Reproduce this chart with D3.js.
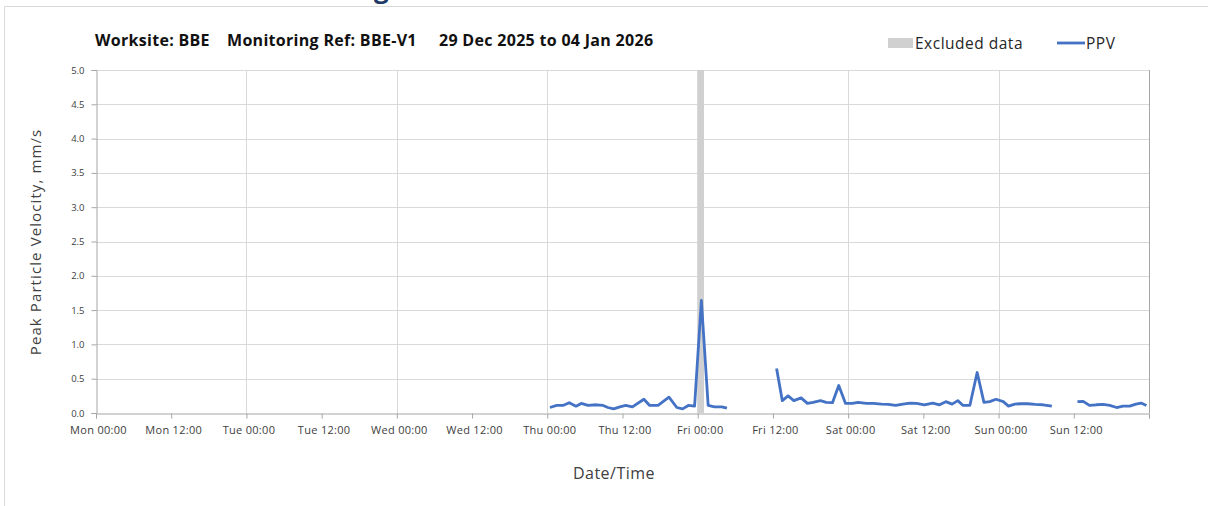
<!DOCTYPE html>
<html><head><meta charset="utf-8">
<script src="https://cdn.jsdelivr.net/npm/d3@7"></script>
<style>
body{margin:0;background:#fff;}
svg{display:block;font-family:'Open Sans',sans-serif;}
</style>
</head><body>
<svg id="chart" width="1208" height="506"></svg>
<script>
// ---------- data ----------
const titleParts = ["Worksite: BBE", "Monitoring Ref: BBE-V1", "29 Dec 2025 to 04 Jan 2026"];
const yTickValues = [0, 0.5, 1, 1.5, 2, 2.5, 3, 3.5, 4, 4.5, 5];
const xTickLabels = ["Mon 00:00","Mon 12:00","Tue 00:00","Tue 12:00","Wed 00:00","Wed 12:00",
                     "Thu 00:00","Thu 12:00","Fri 00:00","Fri 12:00","Sat 00:00","Sat 12:00",
                     "Sun 00:00","Sun 12:00",""];
const xDomain = ["2025-12-29 00:00", "2026-01-05 00:00"];
const excludedRange = ["2026-01-01 23:55", "2026-01-02 01:00"];
const legendLabels = ["Excluded data", "PPV"];

const times = [
  "2026-01-01 00:25","2026-01-01 01:30","2026-01-01 02:30","2026-01-01 03:30","2026-01-01 04:35",
  "2026-01-01 05:25","2026-01-01 06:30","2026-01-01 07:50","2026-01-01 08:55","2026-01-01 09:40",
  "2026-01-01 10:35","2026-01-01 11:35","2026-01-01 12:30","2026-01-01 13:35","2026-01-01 15:25",
  "2026-01-01 16:20","2026-01-01 17:40","2026-01-01 19:25","2026-01-01 20:40","2026-01-01 21:35",
  "2026-01-01 22:30","2026-01-01 23:30","2026-01-02 00:35","2026-01-02 01:40","2026-01-02 02:40",
  "2026-01-02 03:50","2026-01-02 04:40",
  "2026-01-02 08:00",
  "2026-01-02 12:35","2026-01-02 13:30","2026-01-02 14:25","2026-01-02 15:20","2026-01-02 16:30",
  "2026-01-02 17:30","2026-01-02 18:25","2026-01-02 19:35","2026-01-02 20:30","2026-01-02 21:30",
  "2026-01-02 22:30","2026-01-02 23:35","2026-01-03 00:40","2026-01-03 01:35","2026-01-03 02:55",
  "2026-01-03 04:00","2026-01-03 05:20","2026-01-03 06:25","2026-01-03 07:35","2026-01-03 08:45",
  "2026-01-03 09:50","2026-01-03 10:55","2026-01-03 12:10","2026-01-03 13:30","2026-01-03 14:35",
  "2026-01-03 15:35","2026-01-03 16:35","2026-01-03 17:30","2026-01-03 18:20","2026-01-03 19:25",
  "2026-01-03 20:35","2026-01-03 21:40","2026-01-03 22:35","2026-01-03 23:35","2026-01-04 00:45",
  "2026-01-04 01:35","2026-01-04 02:35","2026-01-04 03:35","2026-01-04 04:40","2026-01-04 05:50",
  "2026-01-04 07:05","2026-01-04 08:30",
  "2026-01-04 10:30",
  "2026-01-04 12:35","2026-01-04 13:30","2026-01-04 14:30","2026-01-04 15:35","2026-01-04 16:40",
  "2026-01-04 17:45","2026-01-04 18:50","2026-01-04 19:50","2026-01-04 20:55","2026-01-04 21:55",
  "2026-01-04 22:45","2026-01-04 23:35"
];
const ppv = [
  0.08,0.11,0.11,0.15,0.10,
  0.14,0.11,0.12,0.11,0.08,
  0.06,0.09,0.11,0.09,0.20,
  0.11,0.11,0.23,0.08,0.06,
  0.11,0.10,1.64,0.11,0.09,
  0.09,0.07,
  null,
  0.65,0.18,0.25,0.18,0.22,
  0.14,0.155,0.18,0.155,0.15,
  0.40,0.14,0.14,0.155,0.14,
  0.14,0.13,0.125,0.11,0.13,
  0.145,0.14,0.12,0.145,0.12,
  0.165,0.13,0.18,0.11,0.11,
  0.59,0.155,0.165,0.20,0.165,
  0.10,0.13,0.135,0.135,0.125,
  0.12,0.10,
  null,
  0.165,0.17,0.11,0.12,0.125,
  0.11,0.08,0.10,0.10,0.13,
  0.145,0.11
];

// ---------- drawing ----------
const parse = d3.timeParse("%Y-%m-%d %H:%M");
const data = times.map((t, i) => ({t: parse(t), v: ppv[i]}));
const svg = d3.select("#chart");
const W = 1208, H = 506;
const m = {left: 96, right: 1149, top: 70, bottom: 413};

svg.append("rect").attr("width", W).attr("height", H).attr("fill", "#fff");
// outer frame
svg.append("path").attr("d", `M4.5,${H} V6.5 H${W}`).attr("fill","none").attr("stroke","#d9d9d9").attr("stroke-width",1);
// cut-off heading above frame (only its descender shows in the reference)
svg.append("text").attr("x", 374).attr("y", -2).attr("font-size", 26).attr("font-weight", 700)
  .attr("fill", "#203864").text("g");

const x = d3.scaleTime().domain(xDomain.map(parse)).range([m.left, m.right]);
const y = d3.scaleLinear().domain([0, 5]).range([m.bottom, m.top]);

// horizontal gridlines
svg.append("g").selectAll("line").data(yTickValues.filter(v => v > 0)).join("line")
  .attr("x1", m.left).attr("x2", m.right)
  .attr("y1", d => Math.round(y(d)) + 0.5).attr("y2", d => Math.round(y(d)) + 0.5)
  .attr("stroke", "#d9d9d9");
// vertical gridlines at each day
const dayTicks = d3.timeDay.range(parse(xDomain[0]), d3.timeHour.offset(parse(xDomain[1]), 1)).slice(1);
svg.append("g").selectAll("line").data(dayTicks).join("line")
  .attr("x1", d => Math.round(x(d)) + 0.5).attr("x2", d => Math.round(x(d)) + 0.5)
  .attr("y1", m.top).attr("y2", m.bottom)
  .attr("stroke", "#d9d9d9");

// excluded band
const ex = excludedRange.map(parse);
svg.append("rect").attr("x", x(ex[0])).attr("width", x(ex[1]) - x(ex[0]))
  .attr("y", m.top).attr("height", m.bottom - m.top).attr("fill", "#d0d0d0");

// y axis
const yAxis = d3.axisLeft(y).tickValues(yTickValues).tickFormat(d3.format(".1f")).tickSize(5).tickPadding(7);
const gy = svg.append("g").attr("transform", `translate(${m.left + 0.5},0)`).call(yAxis);
gy.select(".domain").attr("stroke", "#a6a6a6");
gy.selectAll(".tick line").attr("stroke", "#a6a6a6");
gy.selectAll(".tick text").attr("font-family", "'Open Sans',sans-serif").attr("font-size", 9.5).attr("fill", "#404040");

// x axis
const xTicks = d3.timeHour.every(12).range(parse(xDomain[0]), d3.timeHour.offset(parse(xDomain[1]), 1));
const xAxis = d3.axisBottom(x).tickValues(xTicks).tickFormat((d, i) => xTickLabels[i]).tickSize(5).tickPadding(8);
const gx = svg.append("g").attr("transform", `translate(0,${m.bottom + 0.5})`).call(xAxis);
gx.select(".domain").attr("stroke", "#a6a6a6");
gx.selectAll(".tick line").attr("stroke", "#a6a6a6");
gx.selectAll(".tick text").attr("font-family", "'Open Sans',sans-serif").attr("font-size", 11)
  .attr("letter-spacing", 0.3).attr("fill", "#404040").attr("dx", 2);
// right border
svg.append("line").attr("x1", m.right + 0.5).attr("x2", m.right + 0.5).attr("y1", m.top).attr("y2", m.bottom)
  .attr("stroke", "#a6a6a6");

// PPV line
const line = d3.line().defined(d => d.v != null).x(d => x(d.t)).y(d => y(d.v));
svg.append("path").datum(data).attr("d", line).attr("fill", "none")
  .attr("stroke", "#4472c4").attr("stroke-width", 2.8).attr("stroke-linejoin", "round");

// title
const titleX = [95, 227, 439];
svg.append("g").selectAll("text").data(titleParts).join("text")
  .attr("x", (d, i) => titleX[i]).attr("y", 46)
  .attr("font-size", 16).attr("letter-spacing", 0.3).attr("font-weight", 700).attr("fill", "#111").text(d => d);

// legend
svg.append("rect").attr("x", 888).attr("y", 38).attr("width", 25).attr("height", 10).attr("fill", "#d0d0d0");
svg.append("text").attr("x", 915).attr("y", 49).attr("font-size", 15.5).attr("letter-spacing", 0.5)
  .attr("fill", "#262626").text(legendLabels[0]);
svg.append("line").attr("x1", 1057).attr("x2", 1085).attr("y1", 43).attr("y2", 43)
  .attr("stroke", "#4472c4").attr("stroke-width", 2.8);
svg.append("text").attr("x", 1086).attr("y", 49).attr("font-size", 15.5).attr("letter-spacing", 0.5)
  .attr("fill", "#262626").text(legendLabels[1]);

// axis titles
svg.append("text").attr("transform", "translate(41,242) rotate(-90)").attr("text-anchor", "middle")
  .attr("font-size", 15).attr("letter-spacing", 1.1).attr("fill", "#404040").text("Peak Particle Velocity, mm/s");
svg.append("text").attr("x", 614).attr("y", 479).attr("text-anchor", "middle")
  .attr("font-size", 16).attr("letter-spacing", 0.5).attr("fill", "#404040").text("Date/Time");
</script>
</body></html>
